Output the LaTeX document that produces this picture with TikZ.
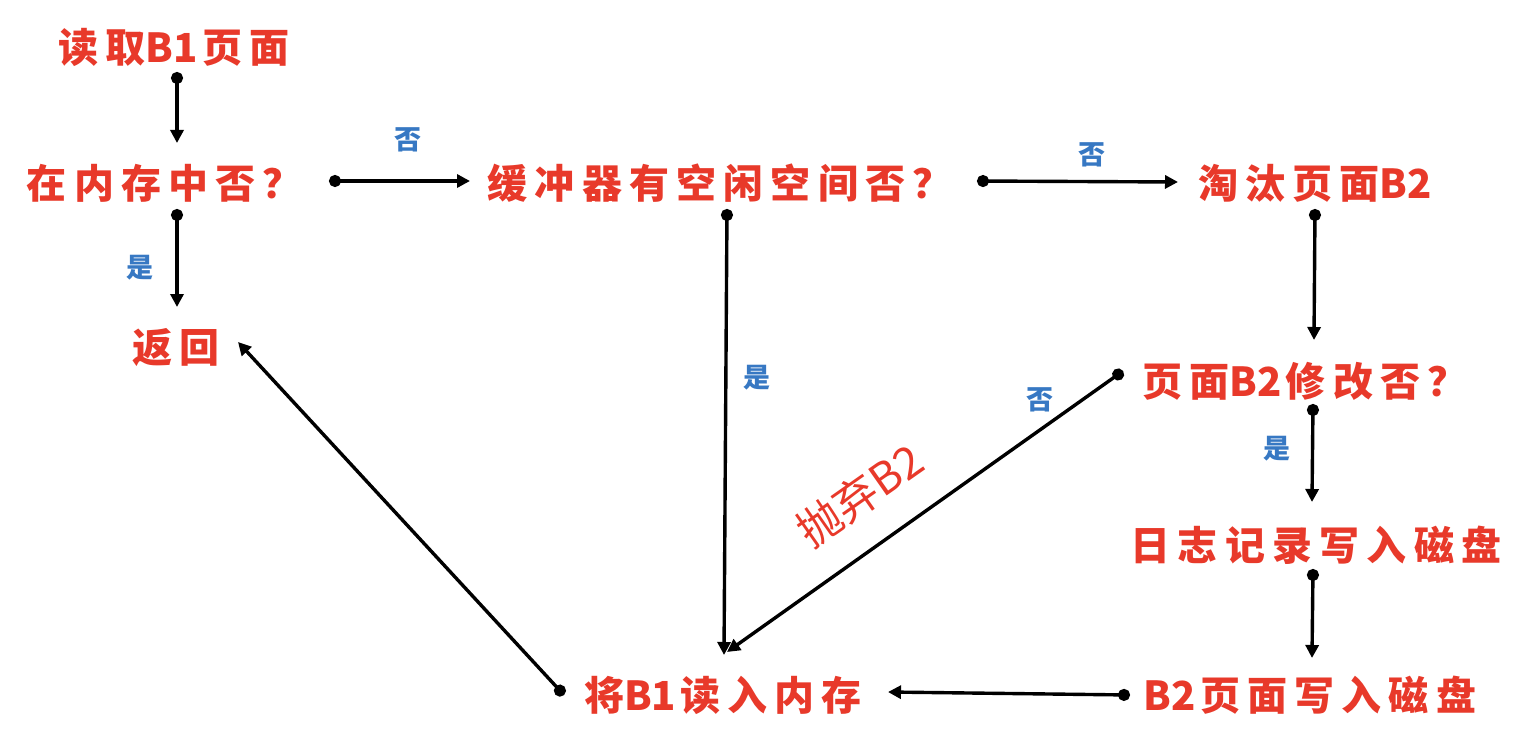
\documentclass[tikz,border=0pt]{standalone}
\usepackage{fontspec}
\usetikzlibrary{arrows.meta}
\newfontfamily\cjk{Noto Sans CJK SC}[LetterSpace=18]
\newfontfamily\cjkplain{Noto Sans CJK SC}
\newcommand\tightlat[1]{{\cjkplain\bfseries #1}\kern4pt}
\definecolor{txtred}{RGB}{232,57,42}
\definecolor{lblblue}{RGB}{55,120,195}
\tikzset{
  box/.style={text=txtred, inner sep=0pt, font=\cjk\bfseries\fontsize{40}{40}\selectfont},
  lbl/.style={text=lblblue, inner sep=0pt, font=\cjkplain\bfseries\fontsize{27}{27}\selectfont},
  conn/.style={line width=3.4pt, draw=black, {Circle[length=12pt,width=12pt]}-{Triangle[length=13pt,width=13pt]}}
}
\begin{document}
\begin{tikzpicture}[x=1pt,y=-1pt]
\useasboundingbox (0,0) rectangle (1534,730);
\node[box] (read) at (174,47) {读取\tightlat{B1}页面};
\node[box] (inmem) at (165,183) {在内存中否？};
\node[box] (ret) at (176,348) {返回};
\node[box] (buf) at (720,183) {缓冲器有空闲空间否？};
\node[box] (evict) at (1317,183) {淘汰页面\tightlat{B2}};
\node[box] (mod) at (1305,381) {页面\tightlat{B2}修改否？};
\node[box] (log) at (1316,545) {日志记录写入磁盘};
\node[box] (wb2) at (1310,695) {\tightlat{B2}页面写入磁盘};
\node[box] (load) at (723,695) {将\tightlat{B1}读入内存};
\node[box, font=\cjkplain\fontsize{44}{44}\selectfont, rotate=35] (drop) at (860,495) {抛弃B2};

\node[lbl] (l1) at (408,140) {否};
\node[lbl] (l2) at (140,268) {是};
\node[lbl] (l3) at (1092,155) {否};
\node[lbl] (l4) at (757,378) {是};
\node[lbl] (l5) at (1040,400) {否};
\node[lbl] (l6) at (1277,449) {是};

\draw[conn] ([xshift=3pt,yshift=-25pt]read.center) -- ([xshift=12pt,yshift=40pt]inmem.center);
\draw[conn] ([xshift=12pt,yshift=-26pt]inmem.center) -- ([xshift=1pt,yshift=41pt]ret.center);
\draw[conn] ([xshift=164pt,yshift=2pt]inmem.center) -- ([xshift=-250pt,yshift=2pt]buf.center);
\draw[conn] ([xshift=257pt,yshift=2pt]buf.center) -- ([xshift=-139pt,yshift=1pt]evict.center);
\draw[conn] ([xshift=7pt,yshift=-26pt]buf.center) -- ([xshift=1pt,yshift=40pt]load.center);
\draw[conn] ([xshift=-2pt,yshift=-26pt]evict.center) -- ([xshift=9pt,yshift=41pt]mod.center);
\draw[conn] ([xshift=-182pt,yshift=10pt]mod.center) -- ([xshift=4pt,yshift=43pt]load.center);
\draw[conn] ([xshift=8pt,yshift=-23pt]mod.center) -- ([xshift=-4pt,yshift=43pt]log.center);
\draw[conn] ([xshift=-3pt,yshift=-24pt]log.center) -- ([xshift=2pt,yshift=37pt]wb2.center);
\draw[conn] ([xshift=-180pt]wb2.center) -- ([xshift=165pt,yshift=3pt]load.center);
\draw[conn] ([xshift=-159pt,yshift=0pt]load.center) -- ([xshift=62pt,yshift=6pt]ret.center);
\end{tikzpicture}
\end{document}
